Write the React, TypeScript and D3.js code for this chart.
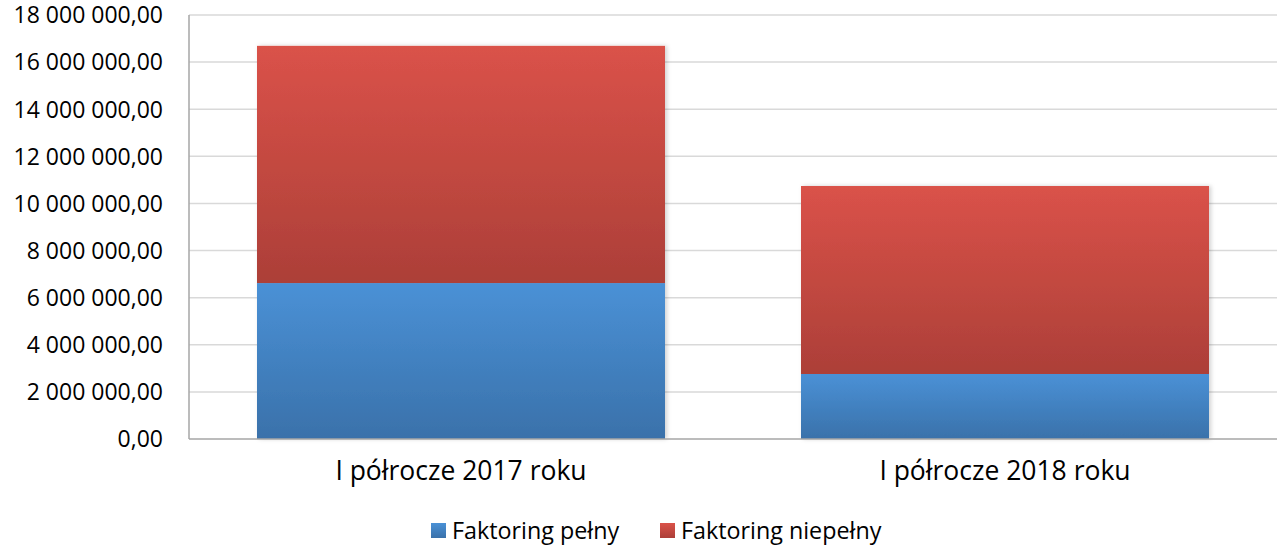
import { useEffect, useRef } from 'react';
import * as d3 from 'd3';

const categories = ['I półrocze 2017 roku', 'I półrocze 2018 roku'];
const fullFactoring = [6620000, 2760000];
const partialFactoring = [10070000, 7980000];
const seriesNames = ['Faktoring pełny', 'Faktoring niepełny'];
const yTicks = [0, 2e6, 4e6, 6e6, 8e6, 10e6, 12e6, 14e6, 16e6, 18e6];

const fmt = (v: number) => {
	const s = d3.format(',.2f')(v);
	return s.replace(/,/g, ' ').replace('.', ',');
};

export default function App() {
	const ref = useRef<SVGSVGElement | null>(null);

	useEffect(() => {
		if (!ref.current) return;
		const svg = d3.select(ref.current);
		svg.selectAll('*').remove();

		const margin = { top: 15, right: 0, bottom: 107, left: 189 };
		const W = 1277;
		const H = 546;
		const width = W - margin.left - margin.right;
		const height = H - margin.top - margin.bottom;
		const font = '"Open Sans", sans-serif';

		const defs = svg.append('defs');
		const grads = [
			{ id: 'gBlue', top: '#4a91d6', bottom: '#3a71aa' },
			{ id: 'gRed', top: '#da5249', bottom: '#ac3f38' },
		];
		grads.forEach(g => {
			const lg = defs
				.append('linearGradient')
				.attr('id', g.id)
				.attr('x1', 0)
				.attr('y1', 0)
				.attr('x2', 0)
				.attr('y2', 1);
			lg.append('stop').attr('offset', '0%').attr('stop-color', g.top);
			lg.append('stop').attr('offset', '100%').attr('stop-color', g.bottom);
		});
		const shadow = defs.append('filter').attr('id', 'shadow').attr('x', '-5%').attr('y', '-5%').attr('width', '110%').attr('height', '110%');
		shadow
			.append('feDropShadow')
			.attr('dx', 2)
			.attr('dy', 0)
			.attr('stdDeviation', 2)
			.attr('flood-color', '#000')
			.attr('flood-opacity', 0.18);

		const x = d3.scaleBand().domain(categories).range([0, width]).paddingInner(0.25).paddingOuter(0.125);
		const y = d3.scaleLinear().domain([0, 18e6]).range([height, 0]);

		const g = svg.append('g').attr('transform', `translate(${margin.left}, ${margin.top})`);

		g.selectAll('line.grid')
			.data(yTicks.slice(1))
			.enter()
			.append('line')
			.attr('x1', 0)
			.attr('x2', width)
			.attr('y1', d => y(d))
			.attr('y2', d => y(d))
			.attr('stroke', '#d9d9d9')
			.attr('stroke-width', 1.5);

		g.selectAll('text.ytick')
			.data(yTicks)
			.enter()
			.append('text')
			.attr('x', -26)
			.attr('y', d => y(d))
			.attr('dy', '0.36em')
			.attr('text-anchor', 'end')
			.attr('font-family', font)
			.attr('font-size', 23)
			.attr('fill', '#000')
			.text(d => fmt(d));

		const stacked = categories.map((c, i) => ({
			cat: c,
			parts: [
				{ y0: 0, y1: fullFactoring[i], fill: 'url(#gBlue)' },
				{ y0: fullFactoring[i], y1: fullFactoring[i] + partialFactoring[i], fill: 'url(#gRed)' },
			],
		}));

		stacked.forEach(s => {
			const bg = g.append('g').attr('filter', 'url(#shadow)');
			s.parts.forEach(p => {
				bg.append('rect')
					.attr('x', x(s.cat)!)
					.attr('width', x.bandwidth())
					.attr('y', y(p.y1))
					.attr('height', y(p.y0) - y(p.y1))
					.attr('fill', p.fill);
			});
		});

		g.append('line')
			.attr('x1', 0)
			.attr('x2', width)
			.attr('y1', height)
			.attr('y2', height)
			.attr('stroke', '#a6a6a6')
			.attr('stroke-width', 1.5);
		g.append('line')
			.attr('x1', 0)
			.attr('x2', 0)
			.attr('y1', 0)
			.attr('y2', height)
			.attr('stroke', '#a6a6a6')
			.attr('stroke-width', 1.5);

		g.selectAll('text.xcat')
			.data(categories)
			.enter()
			.append('text')
			.attr('x', d => x(d)! + x.bandwidth() / 2)
			.attr('y', height + 41)
			.attr('text-anchor', 'middle')
			.attr('font-family', font)
			.attr('font-size', 26.5)
			.attr('fill', '#000')
			.text(d => d);

		const legendColors = ['url(#gBlue)', 'url(#gRed)'];
		const legendX = [431, 660];
		seriesNames.forEach((n, i) => {
			svg.append('rect')
				.attr('x', legendX[i])
				.attr('y', 523)
				.attr('width', 15)
				.attr('height', 15)
				.attr('fill', legendColors[i]);
			svg.append('text')
				.attr('x', legendX[i] + 21)
				.attr('y', 539)
				.attr('font-family', font)
				.attr('font-size', 23.3)
				.attr('fill', '#000')
				.text(n);
		});
	}, []);

	return <svg width={1277} height={546} ref={ref} style={{ position: 'absolute', left: 0, top: 0 }} />;
}
